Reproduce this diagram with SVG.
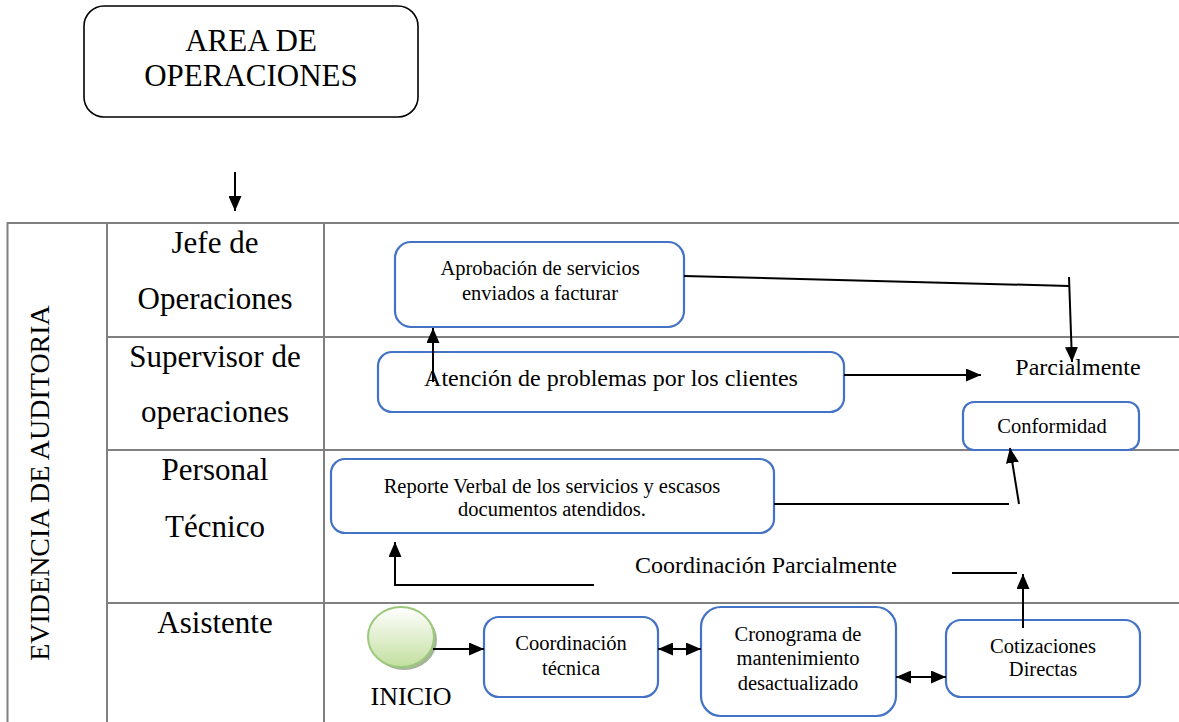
<svg xmlns="http://www.w3.org/2000/svg" width="1179" height="722" viewBox="0 0 1179 722" font-family="'Liberation Serif', 'DejaVu Serif', serif">
<style>
  text { font-family: 'Liberation Serif', 'DejaVu Serif', serif; fill: #000; }
  .grid { stroke: #808080; stroke-width: 2; fill: none; }
  .node { fill: #fff; stroke: #4472c4; stroke-width: 2.2; }
  .conn { stroke: #000; stroke-width: 2; fill: none; }
  .lane { font-size: 31px; text-anchor: middle; }
  .s21 { font-size: 20.5px; text-anchor: middle; }
  .s24 { font-size: 24px; text-anchor: middle; }
</style>
<defs>
  <marker id="ah" markerUnits="userSpaceOnUse" markerWidth="15" markerHeight="13" refX="15" refY="6.5" orient="auto-start-reverse">
    <path d="M0,0 L15,6.5 L0,13 z" fill="#000"/>
  </marker>
  <linearGradient id="gr" x1="0" y1="0" x2="0" y2="1">
    <stop offset="0" stop-color="#ffffff"/>
    <stop offset="1" stop-color="#c3df9f"/>
  </linearGradient>
</defs>

<g id="table">
  <line class="grid" x1="7.5" y1="223" x2="1179" y2="223"/>
  <line class="grid" x1="7.5" y1="222" x2="7.5" y2="722"/>
  <line class="grid" x1="107" y1="222" x2="107" y2="722"/>
  <line class="grid" x1="324" y1="222" x2="324" y2="722"/>
  <line class="grid" x1="107" y1="337" x2="1179" y2="337"/>
  <line class="grid" x1="107" y1="450" x2="1179" y2="450"/>
  <line class="grid" x1="107" y1="603" x2="1179" y2="603"/>
  <text transform="translate(49,483) rotate(-90)" font-size="28" text-anchor="middle">EVIDENCIA DE AUDITORIA</text>
</g>

<g id="lane-jefe"><text class="lane" x="215" y="253">Jefe de</text><text class="lane" x="215" y="309">Operaciones</text></g>
<g id="lane-supervisor"><text class="lane" x="215" y="367">Supervisor de</text><text class="lane" x="215" y="422">operaciones</text></g>
<g id="lane-personal"><text class="lane" x="215" y="480">Personal</text><text class="lane" x="215" y="537">Técnico</text></g>
<g id="lane-asistente"><text class="lane" x="215" y="633">Asistente</text></g>

<g id="area">
  <rect x="84" y="6" width="334" height="111" rx="20" fill="#fff" stroke="#000" stroke-width="1.6"/>
  <text x="251" y="51" font-size="31" text-anchor="middle">AREA DE</text>
  <text x="251" y="86" font-size="31" text-anchor="middle">OPERACIONES</text>
</g>

<g id="aprobacion">
  <rect class="node" x="395" y="242" width="289" height="85" rx="16"/>
  <text class="s21" x="540" y="275">Aprobación de servicios</text>
  <text class="s21" x="540" y="300">enviados a facturar</text>
</g>

<g id="atencion">
  <rect class="node" x="378" y="352" width="466" height="60" rx="14"/>
  <text class="s24" x="611" y="386">Atención de problemas por los clientes</text>
</g>

<g id="parcialmente">
  <text class="s24" x="1078" y="375">Parcialmente</text>
</g>

<g id="conformidad">
  <rect class="node" x="963" y="402" width="176" height="48" rx="11"/>
  <text class="s21" x="1052" y="433">Conformidad</text>
</g>

<g id="reporte">
  <rect class="node" x="331" y="459" width="443" height="74" rx="14"/>
  <text class="s21" x="552" y="493">Reporte Verbal de los servicios y escasos</text>
  <text class="s21" x="552" y="516">documentos atendidos.</text>
</g>

<g id="coord-parcial">
  <text class="s24" x="766" y="573">Coordinación Parcialmente</text>
</g>

<g id="inicio">
  <ellipse cx="404" cy="640" rx="33" ry="30" fill="#a6b59a"/>
  <ellipse cx="401" cy="637" rx="33" ry="30" fill="url(#gr)" stroke="#9cc97c" stroke-width="2"/>
  <text x="411" y="705" font-size="26" text-anchor="middle">INICIO</text>
</g>

<g id="coord-tecnica">
  <rect class="node" x="484" y="617" width="174" height="80" rx="15"/>
  <text class="s21" x="571" y="650">Coordinación</text>
  <text class="s21" x="571" y="675">técnica</text>
</g>

<g id="cronograma">
  <rect class="node" x="701" y="607" width="195" height="109" rx="20"/>
  <text class="s21" x="798" y="641">Cronograma de</text>
  <text class="s21" x="798" y="665">mantenimiento</text>
  <text class="s21" x="798" y="690">desactualizado</text>
</g>

<g id="cotizaciones">
  <rect class="node" x="946" y="620" width="194" height="77" rx="15"/>
  <text class="s21" x="1043" y="653">Cotizaciones</text>
  <text class="s21" x="1043" y="676">Directas</text>
</g>

<g id="connectors">
  <line class="conn" x1="235" y1="172" x2="235" y2="211" marker-end="url(#ah)"/>
  <line class="conn" x1="433" y1="382" x2="433" y2="328" marker-end="url(#ah)"/>
  <polyline class="conn" points="684,276 1069,286"/>
  <line class="conn" x1="1069" y1="277" x2="1072" y2="362" marker-end="url(#ah)"/>
  <line class="conn" x1="844" y1="375" x2="981" y2="375" marker-end="url(#ah)"/>
  <line class="conn" x1="774" y1="504" x2="1009" y2="504"/>
  <line class="conn" x1="1019" y1="504" x2="1010" y2="448" marker-end="url(#ah)"/>
  <polyline class="conn" points="594,585 395,585 395,542" marker-end="url(#ah)"/>
  <line class="conn" x1="952" y1="573" x2="1017" y2="573"/>
  <line class="conn" x1="1023" y1="628" x2="1023" y2="574" marker-end="url(#ah)"/>
  <line class="conn" x1="433" y1="649" x2="484" y2="649" marker-end="url(#ah)"/>
  <line class="conn" x1="658" y1="649" x2="701" y2="649" marker-start="url(#ah)" marker-end="url(#ah)"/>
  <line class="conn" x1="896" y1="677" x2="946" y2="677" marker-start="url(#ah)" marker-end="url(#ah)"/>
</g>
</svg>
